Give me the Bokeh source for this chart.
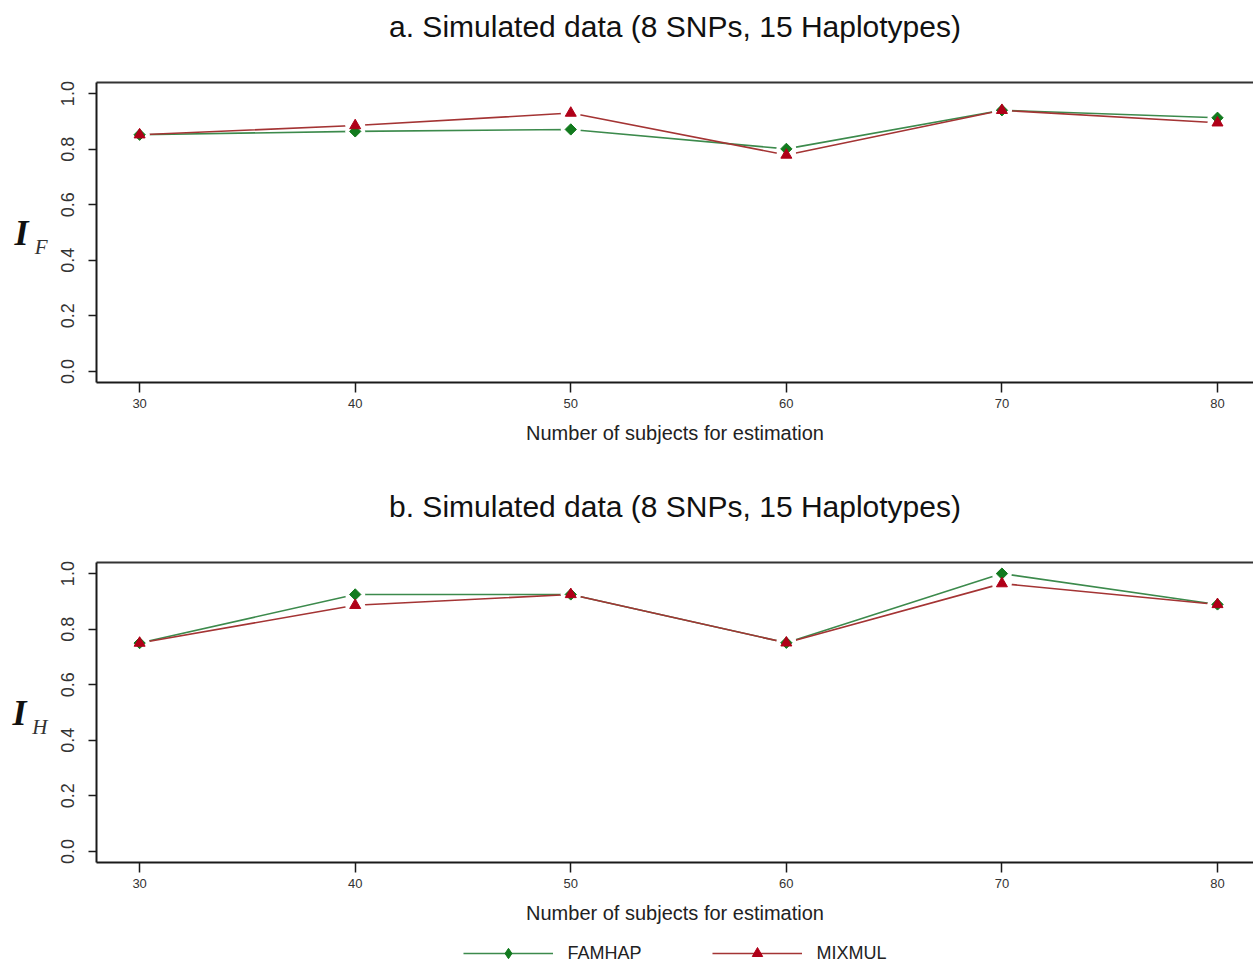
import math
from bokeh.plotting import figure
from bokeh.models import Range1d, FixedTicker, PrintfTickFormatter, LinearAxis, Legend, LegendItem
from bokeh.layouts import column
from bokeh.embed import file_html
from bokeh.resources import INLINE

# ---- data ----
subjects = [30, 40, 50, 60, 70, 80]
famhap_a = [0.852, 0.864, 0.871, 0.801, 0.940, 0.913]
mixmul_a = [0.852, 0.885, 0.930, 0.779, 0.940, 0.895]
famhap_b = [0.750, 0.925, 0.925, 0.751, 1.000, 0.889]
mixmul_b = [0.750, 0.886, 0.925, 0.751, 0.964, 0.889]
y_ticks = [0.0, 0.2, 0.4, 0.6, 0.8, 1.0]
titles = ["a. Simulated data (8 SNPs, 15 Haplotypes)",
          "b. Simulated data (8 SNPs, 15 Haplotypes)"]
subscripts = ["F", "H"]
x_label = "Number of subjects for estimation"
series_names = ["FAMHAP", "MIXMUL"]

GREEN_LINE = "#3c8a4c"
GREEN_MK = "#127a1e"
RED_LINE = "#a43434"
RED_MK = "#b00018"
AXC = "#1a1a1a"


def make_panel(title, fam, mix, sub, top_border, bottom_border):
    p = figure(frame_width=1157, frame_height=300,
               min_border_left=96, min_border_right=0,
               min_border_top=top_border, min_border_bottom=bottom_border,
               x_range=Range1d(28, 81.67), y_range=Range1d(-0.04, 1.04),
               output_backend="svg", toolbar_location=None,
               background_fill_color="white", border_fill_color="white")
    p.outline_line_color = None
    p.xgrid.visible = False
    p.ygrid.visible = False

    # axes
    for ax in (p.xaxis[0], p.yaxis[0]):
        ax.axis_line_width = 2
        ax.axis_line_color = AXC
        ax.major_tick_line_color = AXC
        ax.major_tick_line_width = 1.5
        ax.major_tick_in = 0
        ax.minor_tick_line_color = None
        ax.major_label_text_font = "Liberation Sans"
        ax.major_label_text_color = "#333333"

    xa = p.xaxis[0]
    xa.ticker = FixedTicker(ticks=subjects)
    xa.major_tick_out = 10
    xa.major_label_text_font_size = "13px"
    xa.major_label_standoff = 6
    xa.axis_label = x_label
    xa.axis_label_text_font = "Liberation Sans"
    xa.axis_label_text_font_size = "20px"
    xa.axis_label_text_font_style = "normal"
    xa.axis_label_text_color = "#222222"
    xa.axis_label_standoff = 11

    ya = p.yaxis[0]
    ya.ticker = FixedTicker(ticks=y_ticks)
    ya.formatter = PrintfTickFormatter(format="%.1f")
    ya.major_tick_out = 8
    ya.major_label_orientation = "vertical"
    ya.major_label_text_font_size = "18px"
    ya.major_label_standoff = 14
    # subscript of the y label, closest to the axis
    ya.axis_label = "\n" + sub
    ya.axis_label_orientation = "horizontal"
    ya.axis_label_text_font = "Liberation Serif"
    ya.axis_label_text_font_size = "21px"
    ya.axis_label_text_font_style = "italic"
    ya.axis_label_text_color = "#333333"
    ya.axis_label_standoff = 11

    # main letter "I" of the y label, on an outer axis
    outer = LinearAxis(ticker=FixedTicker(ticks=[]), axis_line_color=None,
                       major_tick_line_color=None, minor_tick_line_color=None,
                       axis_label="I", axis_label_orientation="horizontal",
                       axis_label_text_font="Liberation Serif",
                       axis_label_text_font_size="36px",
                       axis_label_text_font_style="bold italic",
                       axis_label_text_color="#111111",
                       axis_label_standoff=3)
    p.add_layout(outer, "left")

    # top border of the box, carrying the panel title
    top = LinearAxis(ticker=FixedTicker(ticks=[]), axis_line_width=2,
                     axis_line_color="#333333", major_tick_out=0, major_tick_in=0,
                     major_tick_line_color=None, minor_tick_line_color=None,
                     axis_label=title, axis_label_standoff=40,
                     axis_label_text_font="Liberation Sans",
                     axis_label_text_font_size="30px",
                     axis_label_text_font_style="normal",
                     axis_label_text_color="#111111")
    p.add_layout(top, "above")

    # data
    p.line(subjects, fam, line_color=GREEN_LINE, line_width=1.6)
    p.line(subjects, mix, line_color=RED_LINE, line_width=1.6)
    p.scatter(subjects, fam, marker="circle", size=20, fill_color="white", line_color=None)
    p.scatter(subjects, mix, marker="circle", size=20, fill_color="white", line_color=None)
    p.scatter(subjects, fam, marker="square", angle=math.pi / 4, size=8,
              fill_color=GREEN_MK, line_color=GREEN_MK)
    p.scatter(subjects, mix, marker="triangle", size=11,
              fill_color=RED_MK, line_color=RED_MK)
    return p


p1 = make_panel(titles[0], famhap_a, mixmul_a, subscripts[0], 82, 95)
p2 = make_panel(titles[1], famhap_b, mixmul_b, subscripts[1], 85, 70)

# legend strip below the panels (series drawn out of view; only the legend shows)
pl = figure(frame_width=1157, frame_height=34, min_border_left=96, min_border_right=0,
            min_border_top=0, min_border_bottom=0,
            x_range=Range1d(28, 81.67), y_range=Range1d(-3, -2),
            x_axis_location=None, y_axis_location=None,
            output_backend="svg", toolbar_location=None,
            background_fill_color="white", border_fill_color="white")
pl.outline_line_color = None
pl.xgrid.visible = False
pl.ygrid.visible = False
lg = pl.line(subjects, famhap_b, line_color=GREEN_LINE, line_width=1.6)
sg = pl.scatter(subjects, famhap_b, marker="diamond", size=12,
                fill_color=GREEN_MK, line_color=GREEN_MK)
lr = pl.line(subjects, mixmul_b, line_color=RED_LINE, line_width=1.6)
sr = pl.scatter(subjects, mixmul_b, marker="triangle", size=11,
                fill_color=RED_MK, line_color=RED_MK)
legend = Legend(items=[LegendItem(label=series_names[0], renderers=[lg, sg]),
                       LegendItem(label=series_names[1], renderers=[lr, sr])],
                orientation="horizontal", location="bottom_center",
                border_line_color=None, background_fill_alpha=0,
                glyph_width=90, glyph_height=26, label_height=26,
                label_standoff=15, spacing=70, padding=0, margin=0,
                label_text_font="Liberation Sans", label_text_font_size="18px",
                label_text_color="#222222")
pl.add_layout(legend, "center")

layout = column(p1, p2, pl, spacing=0)
open("out.html", "w").write(file_html(layout, INLINE))
